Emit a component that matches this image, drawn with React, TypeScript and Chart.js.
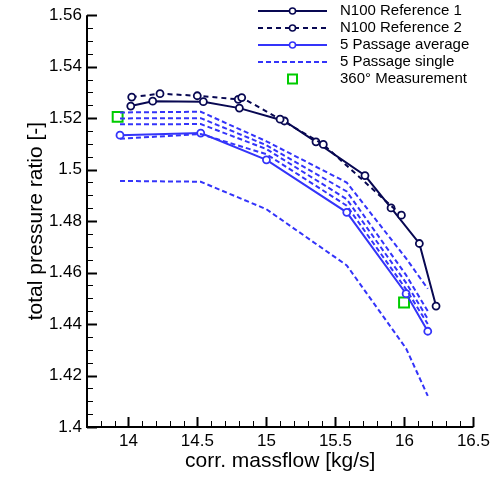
import React, { useEffect, useRef } from "react";
import { Chart, registerables } from "chart.js";
Chart.register(...registerables);

// ---- data ----
const ref1X = [14.017, 14.176, 14.543, 14.804, 15.13, 15.359, 15.714, 15.903, 16.108, 16.229];
const ref1Y = [1.5247, 1.5266, 1.5264, 1.5239, 1.5189, 1.5108, 1.4977, 1.4851, 1.4713, 1.447];
const ref2X = [14.024, 14.229, 14.499, 14.796, 14.821, 15.099, 15.412, 15.978];
const ref2Y = [1.5282, 1.5295, 1.5287, 1.5273, 1.528, 1.5196, 1.5098, 1.4823];
const avgX = [13.939, 14.524, 15.0, 15.582, 16.012, 16.169];
const avgY = [1.5134, 1.5142, 1.5038, 1.4834, 1.4518, 1.4372];
const singleX = [13.939, 14.524, 15.0, 15.582, 16.012, 16.169];
const single1Y = [1.5222, 1.5225, 1.511, 1.495, 1.4655, 1.4537];
const single2Y = [1.5199, 1.52, 1.5095, 1.4915, 1.459, 1.445];
const single3Y = [1.5176, 1.5177, 1.508, 1.4885, 1.456, 1.442];
const single4Y = [1.512, 1.5138, 1.506, 1.486, 1.4535, 1.44];
const single5Y = [1.4956, 1.4953, 1.4846, 1.4628, 1.4305, 1.4121];
const measX = [13.922, 15.997];
const measY = [1.5205, 1.4484];

const xTickValues = [14, 14.5, 15, 15.5, 16, 16.5];
const yTickValues = [1.4, 1.42, 1.44, 1.46, 1.48, 1.5, 1.52, 1.54, 1.56];
const xMin = 13.7, xMax = 16.5, xMinorStep = 0.1;
const yMin = 1.4, yMax = 1.56, yMinorStep = 0.005;

const legendLabels = ["N100 Reference 1", "N100 Reference 2", "5 Passage average", "5 Passage single", "360° Measurement"];

const NAVY = "rgb(8,8,82)";
const BLUE = "rgb(52,52,250)";
const GREEN = "rgb(0,204,0)";
const FONT = "'Liberation Sans', Arial, Helvetica, sans-serif";

const pts = (xs: number[], ys: number[]) => xs.map((x, i) => ({ x, y: ys[i] }));

const axesPlugin = {
  id: "inwardAxes",
  afterDatasetsDraw(chart: any) {
    const { ctx, chartArea } = chart;
    const { left, right, top, bottom } = chartArea;
    const xs = chart.scales.x, ys = chart.scales.y;
    ctx.save();
    ctx.setLineDash([]);
    ctx.strokeStyle = "#000";
    const nx = Math.round((xMax - xMin) / xMinorStep);
    for (let i = 1; i <= nx; i++) {
      const v = +(xMin + i * xMinorStep).toFixed(3);
      const major = xTickValues.some((t) => Math.abs(t - v) < 1e-6);
      const px = Math.round(xs.getPixelForValue(v)) + 0.5;
      ctx.lineWidth = major ? 2 : 1;
      ctx.beginPath();
      ctx.moveTo(px, bottom);
      ctx.lineTo(px, bottom - (major ? 10 : 6));
      ctx.stroke();
    }
    const ny = Math.round((yMax - yMin) / yMinorStep);
    for (let i = 0; i <= ny; i++) {
      const v = +(yMin + i * yMinorStep).toFixed(4);
      const major = yTickValues.some((t) => Math.abs(t - v) < 1e-6);
      const py = Math.round(ys.getPixelForValue(v)) + 0.5;
      ctx.lineWidth = major ? 2 : 1;
      ctx.beginPath();
      ctx.moveTo(left, py);
      ctx.lineTo(left + (major ? 10 : 6), py);
      ctx.stroke();
    }
    ctx.lineWidth = 2;
    ctx.beginPath();
    ctx.moveTo(left, top);
    ctx.lineTo(left, bottom);
    ctx.lineTo(right, bottom);
    ctx.stroke();
    ctx.restore();
  },
};

const legendPlugin = {
  id: "customLegend",
  afterDraw(chart: any) {
    const { ctx } = chart;
    const x0 = 258, x1 = 327, tx = 340;
    const rows = [11, 28, 45, 62, 79];
    const cx = (x0 + x1) / 2;
    ctx.save();
    ctx.font = `15px ${FONT}`;
    ctx.textBaseline = "middle";
    ctx.fillStyle = "#000";
    const styles = [
      { color: NAVY, dash: [] as number[], marker: true, width: 2 },
      { color: NAVY, dash: [5, 4], marker: true, width: 2 },
      { color: BLUE, dash: [] as number[], marker: true, width: 2 },
      { color: BLUE, dash: [5, 3], marker: false, width: 2 },
    ];
    styles.forEach((s, i) => {
      const y = rows[i];
      ctx.strokeStyle = s.color;
      ctx.lineWidth = s.width;
      ctx.setLineDash(s.dash);
      ctx.beginPath();
      ctx.moveTo(x0, y);
      ctx.lineTo(x1, y);
      ctx.stroke();
      if (s.marker) {
        ctx.setLineDash([]);
        ctx.lineWidth = 1.5;
        ctx.fillStyle = "#fff";
        ctx.beginPath();
        ctx.arc(cx, y, 3, 0, Math.PI * 2);
        ctx.fill();
        ctx.stroke();
      }
      ctx.fillStyle = "#000";
      ctx.fillText(legendLabels[i], tx, y);
    });
    ctx.setLineDash([]);
    ctx.strokeStyle = GREEN;
    ctx.lineWidth = 2;
    ctx.strokeRect(cx - 4.5, rows[4] - 4.5, 9, 9);
    ctx.fillStyle = "#000";
    ctx.fillText(legendLabels[4], tx, rows[4]);
    ctx.restore();
  },
};

export default function App() {
  const ref = useRef<HTMLCanvasElement | null>(null);
  useEffect(() => {
    if (!ref.current) return;
    Chart.defaults.font.family = FONT;
    Chart.defaults.color = "#000";
    const singleDs = [single1Y, single2Y, single3Y, single4Y, single5Y].map((ys) => ({
      data: pts(singleX, ys),
      borderColor: BLUE,
      borderWidth: 2,
      borderDash: [5, 3],
      pointRadius: 0,
      showLine: true,
    }));
    const marker = (c: string) => ({
      pointRadius: 3.5,
      pointBorderWidth: 1.8,
      pointBackgroundColor: "#fff",
      pointBorderColor: c,
    });
    const chart = new Chart(ref.current, {
      type: "scatter",
      data: {
        datasets: [
          ...singleDs,
          { data: pts(avgX, avgY), borderColor: BLUE, borderWidth: 2, showLine: true, ...marker(BLUE) },
          { data: pts(ref2X, ref2Y), borderColor: NAVY, borderWidth: 2, borderDash: [5, 4], showLine: true, ...marker(NAVY) },
          { data: pts(ref1X, ref1Y), borderColor: NAVY, borderWidth: 2, showLine: true, ...marker(NAVY) },
          {
            data: pts(measX, measY),
            showLine: false,
            pointStyle: "rect",
            pointRadius: 7,
            pointBorderWidth: 2,
            pointBorderColor: GREEN,
            pointBackgroundColor: "rgba(0,0,0,0)",
          },
        ],
      },
      options: {
        animation: false,
        responsive: false,
        layout: { padding: { left: 0, right: 20, top: 14, bottom: 0 } },
        plugins: { legend: { display: false }, tooltip: { enabled: false } },
        scales: {
          x: {
            type: "linear",
            min: xMin,
            max: xMax,
            grid: { display: false, drawTicks: false },
            border: { display: false },
            afterBuildTicks: (s: any) => {
              s.ticks = xTickValues.map((v) => ({ value: v }));
            },
            afterFit: (s: any) => {
              s.height = 54;
            },
            ticks: {
              autoSkip: false,
              maxRotation: 0,
              padding: 4,
              font: { size: 17 },
              color: "#000",
              callback: (v: any) => String(+(+v).toFixed(2)),
            },
            title: {
              display: true,
              text: "corr. massflow [kg/s]",
              font: { size: 21 },
              color: "#000",
              padding: { top: 0, bottom: 7 },
            },
          },
          y: {
            type: "linear",
            min: yMin,
            max: yMax,
            grid: { display: false, drawTicks: false },
            border: { display: false },
            afterBuildTicks: (s: any) => {
              s.ticks = yTickValues.map((v) => ({ value: v }));
            },
            afterFit: (s: any) => {
              s.width = 87;
            },
            ticks: {
              autoSkip: false,
              padding: 5,
              font: { size: 17 },
              color: "#000",
              callback: (v: any) => String(+(+v).toFixed(3)),
            },
            title: {
              display: true,
              text: "total pressure ratio [-]",
              font: { size: 21 },
              color: "#000",
              padding: { top: 24, bottom: 0 },
            },
          },
        },
      },
      plugins: [axesPlugin, legendPlugin],
    } as any);
    return () => chart.destroy();
  }, []);
  return (
    <div style={{ position: "fixed", left: 0, top: 0, width: 494, height: 481, background: "#fff" }}>
      <canvas ref={ref} width={494} height={481} style={{ display: "block" }} />
    </div>
  );
}
